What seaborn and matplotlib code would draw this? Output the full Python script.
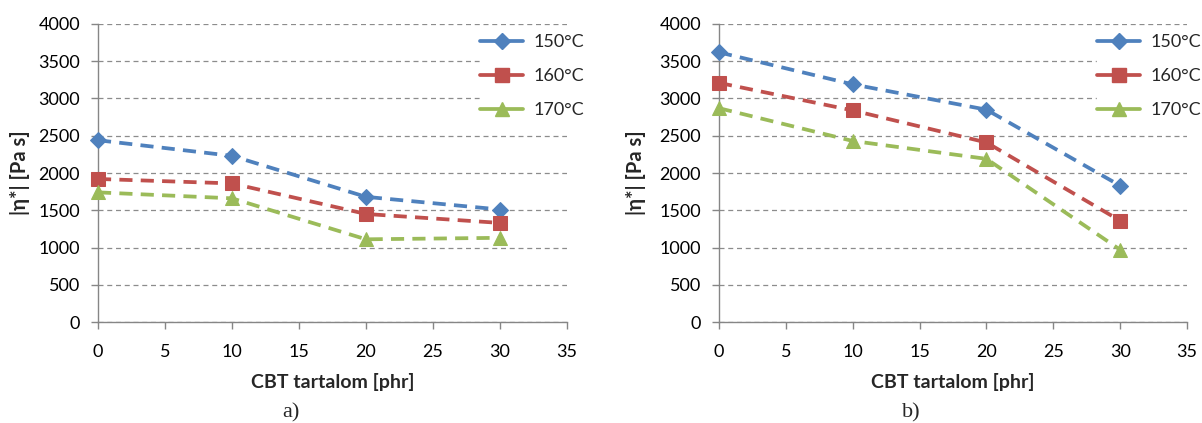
import matplotlib
matplotlib.use("Agg")
import matplotlib.pyplot as plt
from matplotlib.lines import Line2D
import seaborn as sns
import pandas as pd

# CBT content [phr]
cbt_phr = [0, 10, 20, 30]
temperatures = ["150°C", "160°C", "170°C"]

# Complex viscosity |eta*| [Pa s], panel a)
visc_a_150 = [2440, 2230, 1680, 1510]
visc_a_160 = [1920, 1860, 1450, 1330]
visc_a_170 = [1740, 1660, 1110, 1130]

# Complex viscosity |eta*| [Pa s], panel b)
visc_b_150 = [3620, 3190, 2850, 1830]
visc_b_160 = [3210, 2840, 2410, 1360]
visc_b_170 = [2870, 2430, 2190, 970]

y_ticks = [0, 500, 1000, 1500, 2000, 2500, 3000, 3500, 4000]
x_ticks = [0, 5, 10, 15, 20, 25, 30, 35]
panel_labels = ["a)", "b)"]

colors = {"150°C": "#4F81BD", "160°C": "#C0504D", "170°C": "#9BBB59"}
markers = {"150°C": "D", "160°C": "s", "170°C": "^"}
msizes = {"150°C": 8.5, "160°C": 10, "170°C": 10.5}


def long_frame(series):
    rows = []
    for temp, vals in zip(temperatures, series):
        for x, v in zip(cbt_phr, vals):
            rows.append({"phr": x, "visc": v, "temp": temp})
    return pd.DataFrame(rows)


sns.set_theme(style="white")
plt.rcParams["font.family"] = ["Lato", "DejaVu Sans"]

W, H = 1202, 423
fig = plt.figure(figsize=(W / 100, H / 100), dpi=100)
ax_a = fig.add_axes([98 / W, 1 - 322 / H, 469 / W, 298 / H])
ax_b = fig.add_axes([719 / W, 1 - 322 / H, 468 / W, 298 / H])

frames = [
    long_frame([visc_a_150, visc_a_160, visc_a_170]),
    long_frame([visc_b_150, visc_b_160, visc_b_170]),
]

# legend anchor (left edge of handles, top) and y-label x-offset per panel
legend_x = [480 / W, 1097 / W]
ylabel_x = [-0.146, -0.156]

grey = "#868686"
tick_fs = 13
for ax, df, lab, lx, ylx in zip([ax_a, ax_b], frames, panel_labels,
                                legend_x, ylabel_x):
    for temp in temperatures:
        sub = df[df["temp"] == temp]
        sns.lineplot(data=sub, x="phr", y="visc", ax=ax, color=colors[temp],
                     marker=markers[temp], markersize=msizes[temp],
                     markeredgecolor=colors[temp], linewidth=2.7,
                     dashes=(3.5, 2.2), label=temp, zorder=3, clip_on=False)

    ax.set_xlim(0, 35)
    ax.set_ylim(0, 4000)
    ax.set_xticks(x_ticks)
    ax.set_yticks(y_ticks)
    ax.yaxis.grid(True, color="#8c8c8c", linestyle=(0, (4, 3)), linewidth=0.9)
    ax.set_axisbelow(True)
    for side in ["top", "right"]:
        ax.spines[side].set_visible(False)
    for side in ["left", "bottom"]:
        ax.spines[side].set_color(grey)
        ax.spines[side].set_linewidth(1.0)
    ax.tick_params(axis="both", which="major", direction="out", length=5,
                   width=1.0, color=grey, labelsize=tick_fs, labelcolor="black",
                   bottom=True, left=True)
    ax.tick_params(axis="x", pad=11)
    ax.tick_params(axis="y", pad=8)
    ax.set_xlabel("CBT tartalom [phr]", fontsize=14, fontweight="bold", labelpad=9)
    ax.set_ylabel("|η*| [Pa s]", fontsize=14.5, fontweight="bold")
    ax.yaxis.set_label_coords(ylx, 0.5)

    # legend keys: solid line segment with the marker in the middle
    handles = [Line2D([], [], color=colors[t], linewidth=2.7, marker=markers[t],
                      markersize=msizes[t], markeredgecolor=colors[t])
               for t in temperatures]
    if ax.get_legend():
        ax.get_legend().remove()
    leg = fig.legend(handles, temperatures, loc="upper left",
                     bbox_to_anchor=(lx, 1 - 34 / H), frameon=True, framealpha=1,
                     edgecolor="white", facecolor="white", fontsize=13,
                     handlelength=2.4, labelspacing=1.0, borderpad=0.0,
                     handletextpad=0.55, borderaxespad=0)
    leg.set_zorder(5)

fig.text(291 / W, 1 - 413 / H, panel_labels[0], ha="center", va="center",
         fontsize=16, family=["Liberation Serif", "DejaVu Serif"])
fig.text(911 / W, 1 - 413 / H, panel_labels[1], ha="center", va="center",
         fontsize=16, family=["Liberation Serif", "DejaVu Serif"])

fig.savefig("out.png", dpi=100, facecolor="white")
